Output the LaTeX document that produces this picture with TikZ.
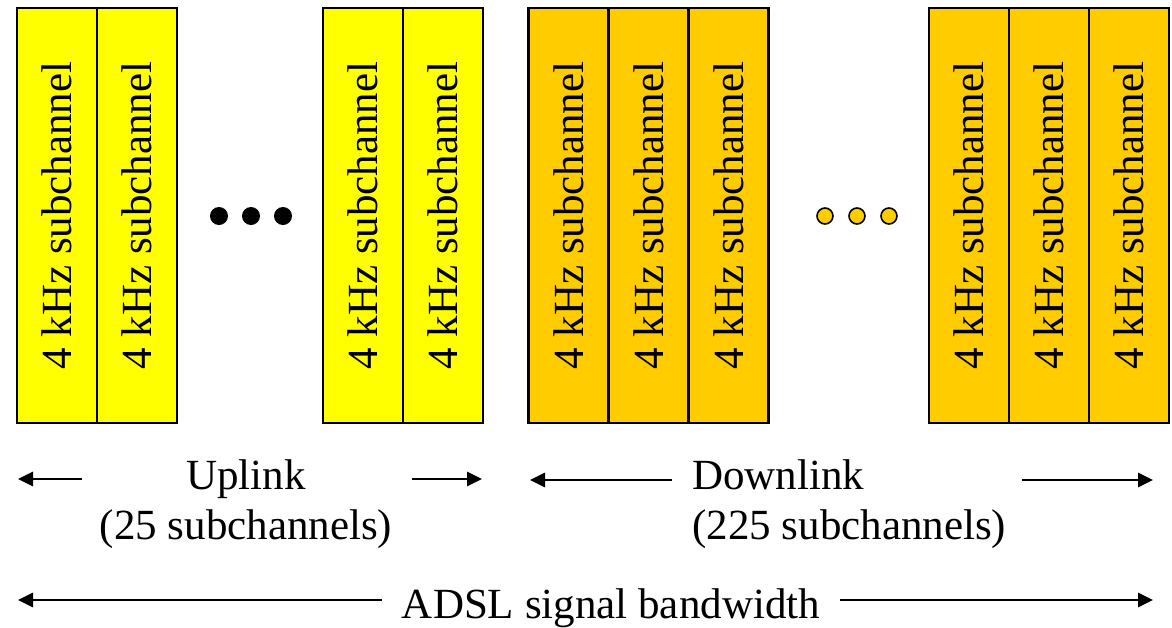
\documentclass[tikz,border=0pt]{standalone}
\usepackage{fontspec}
\setmainfont{Liberation Serif}
\usetikzlibrary{arrows.meta}
\definecolor{upyellow}{HTML}{FFFF00}
\definecolor{downgold}{HTML}{FFCC00}
\begin{document}
\begin{tikzpicture}[x=1pt,y=-1pt,
  chan/.style={draw=black, line width=2.2pt, minimum width=80pt, minimum height=415pt,
    inner sep=0pt, font=\fontsize{43}{46}\selectfont},
  upchan/.style={chan, fill=upyellow},
  downchan/.style={chan, fill=downgold},
  lbl/.style={inner sep=0pt, font=\fontsize{43}{50}\selectfont},
  arr/.style={line width=2.8pt, -{Triangle[length=15pt,width=14pt]}},
  bigdot/.style={circle, fill=black, minimum size=18pt, inner sep=0pt},
  golddot/.style={circle, draw=black, line width=1.6pt, fill=downgold, minimum size=16pt, inner sep=0pt}]
\useasboundingbox (0,0) rectangle (1172,627);

% uplink subchannels
\node[upchan] (u1) at (57,215.5)   {\rotatebox{90}{4 kHz subchannel}};
\node[upchan] (u2) at (137,215.5)  {\rotatebox{90}{4 kHz subchannel}};
\node[upchan] (u3) at (363,215.5)  {\rotatebox{90}{4 kHz subchannel}};
\node[upchan] (u4) at (443,215.5)  {\rotatebox{90}{4 kHz subchannel}};

% downlink subchannels
\node[downchan] (d1) at (568.5,215.5)  {\rotatebox{90}{4 kHz subchannel}};
\node[downchan] (d2) at (648.5,215.5)  {\rotatebox{90}{4 kHz subchannel}};
\node[downchan] (d3) at (728.5,215.5)  {\rotatebox{90}{4 kHz subchannel}};
\node[downchan] (d4) at (969,215.5)  {\rotatebox{90}{4 kHz subchannel}};
\node[downchan] (d5) at (1049,215.5) {\rotatebox{90}{4 kHz subchannel}};
\node[downchan] (d6) at (1129,215.5) {\rotatebox{90}{4 kHz subchannel}};

% ellipses between the groups
\node[bigdot] (ua) at (219,216) {};
\node[bigdot] (ub) at (251,216) {};
\node[bigdot] (uc) at (283,216) {};
\node[golddot] (da) at (825,216) {};
\node[golddot] (db) at (857,216) {};
\node[golddot] (dc) at (889,216) {};

% band labels
\node[lbl, align=center] (up) at (246,504) {Uplink\\(25 subchannels)};
\node[lbl, align=left, anchor=west] (down) at (692,504) {Downlink\\(225 subchannels)};
\node[lbl] (adsl) at (611,608) {ADSL signal bandwidth};

% arrow end points
\coordinate (upL0) at (82,479);   \coordinate (upL1) at (18,479);
\coordinate (upR0) at (412,479);  \coordinate (upR1) at (482,479);
\coordinate (dnL0) at (672,480);  \coordinate (dnL1) at (530,480);
\coordinate (dnR0) at (1022,480); \coordinate (dnR1) at (1153,480);
\coordinate (adL1) at (18,600);   \coordinate (adR1) at (1153,600);
\coordinate (adL0) at ([xshift=-20pt]adsl.west |- adL1);
\coordinate (adR0) at ([xshift=20pt]adsl.east |- adR1);

\draw[arr] (upL0) -- (upL1);
\draw[arr] (upR0) -- (upR1);
\draw[arr] (dnL0) -- (dnL1);
\draw[arr] (dnR0) -- (dnR1);
\draw[arr] (adL0) -- (adL1);
\draw[arr] (adR0) -- (adR1);
\end{tikzpicture}
\end{document}
